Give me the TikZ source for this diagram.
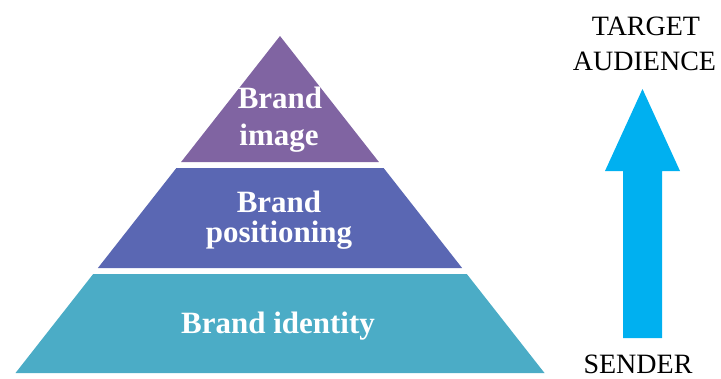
\documentclass[tikz,border=0pt]{standalone}
\usepackage{fontspec}
\setmainfont{Liberation Serif}
\begin{document}
\begin{tikzpicture}[x=1pt,y=-1pt,
  layerlabel/.style={text=white,font=\fontsize{31}{31}\selectfont\bfseries,anchor=base,inner sep=0pt},
  sidelabel/.style={text=black,font=\fontsize{28}{28}\selectfont,anchor=base,inner sep=0pt}]
\definecolor{topc}{HTML}{8064A2}
\definecolor{midc}{HTML}{5A67B3}
\definecolor{botc}{HTML}{4BACC6}
\definecolor{arrc}{HTML}{00B0F0}
\useasboundingbox (0,0) rectangle (721,378);
% pyramid layers
\fill[topc] (280,36) -- (378.9,162) -- (181.1,162) -- cycle;
\fill[midc] (176.4,168) -- (383.6,168) -- (462.1,268) -- (97.9,268) -- cycle;
\fill[botc] (93.2,274) -- (466.8,274) -- (544.5,373) -- (15.5,373) -- cycle;
% labels
\node[layerlabel] (l1a) at (280,108) {Brand};
\node[layerlabel] (l1b) at (279,145) {image};
\node[layerlabel] (l2a) at (279,212) {Brand};
\node[layerlabel] (l2b) at (279,242) {positioning};
\node[layerlabel] (l3) at (278,333) {Brand identity};
% arrow
\fill[arrc] (642.5,89) -- (680,171) -- (662,171) -- (662,338) -- (623,338) -- (623,171) -- (605,171) -- cycle;
\node[sidelabel] (tgt) at (646,35) {TARGET};
\node[sidelabel] (aud) at (644.5,70) {AUDIENCE};
\node[sidelabel] (snd) at (638,373) {SENDER};
\end{tikzpicture}
\end{document}
